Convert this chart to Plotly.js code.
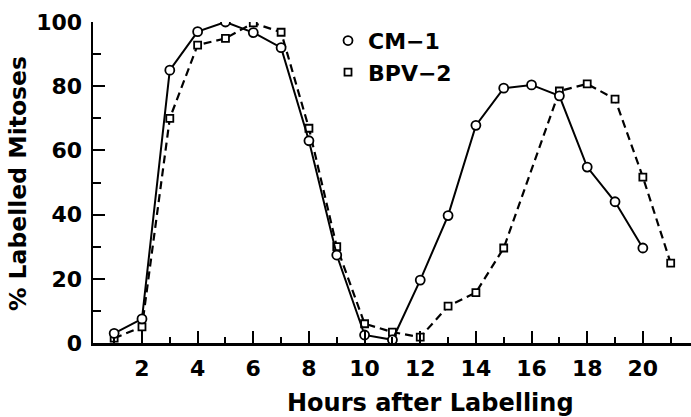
<!DOCTYPE html>
<html>
<head>
<meta charset="utf-8">
<script src="https://cdn.plot.ly/plotly-3.0.1.min.js"></script>
<style>html,body{margin:0;padding:0;background:#fff;}#chart{width:691px;height:417px;}</style>
</head>
<body>
<div id="chart"></div>
<script>
// Hours after labelling
const hoursCM = [1,2,3,4,5,6,7,8,9,10,11,12,13,14,15,16,17,18,19,20];
const labelledCM = [3,7.5,85,97,100,96.7,92,63,27.4,2.5,1,19.6,39.7,67.8,79.4,80.4,77,54.8,44,29.6];
const hoursBPV = [1,2,3,4,5,6,7,8,9,10,11,12,13,14,15,17,18,19,20,21];
const labelledBPV = [1.5,5,70,92.8,94.9,99.7,96.8,66.9,30,6,3.4,1.8,11.5,15.7,29.6,78.5,80.7,76,51.7,24.9];
const seriesNames = ["CM\u22121", "BPV\u22122"];
const xTitle = "Hours after Labelling";
const yTitle = "% Labelled Mitoses";

const FONT = "DejaVu Sans, Liberation Sans, Arial, sans-serif";

const traces = [
  {
    x: hoursBPV, y: labelledBPV, mode: "lines+markers", showlegend: false,
    line: {color: "#000", width: 2.2, dash: "8px,5px"},
    marker: {symbol: "square", size: 7, color: "#fff", line: {color: "#000", width: 1.8}}
  },
  {
    x: hoursCM, y: labelledCM, mode: "lines+markers", showlegend: false,
    line: {color: "#000", width: 2},
    marker: {symbol: "circle", size: 9, color: "#fff", line: {color: "#000", width: 1.8}}
  },
  {
    x: [null], y: [null], mode: "markers", name: seriesNames[0],
    marker: {symbol: "circle", size: 9, color: "#fff", line: {color: "#000", width: 1.8}}
  },
  {
    x: [null], y: [null], mode: "markers", name: seriesNames[1],
    marker: {symbol: "square", size: 7, color: "#fff", line: {color: "#000", width: 1.8}}
  }
];

const layout = {
  width: 691, height: 417,
  margin: {l: 93, r: 0, t: 22, b: 74, pad: 0},
  paper_bgcolor: "#fff", plot_bgcolor: "#fff",
  font: {family: FONT, size: 22, color: "#000", weight: "bold"},
  xaxis: {
    range: [0.24, 21.73], showgrid: false, zeroline: false,
    showline: true, linecolor: "#000", linewidth: 2.5,
    tick0: 0, dtick: 2, ticks: "inside", ticklen: 12, tickwidth: 2, tickcolor: "#000",
    ticklabelstandoff: 4,
    tickfont: {family: FONT, size: 22, color: "#000", weight: "bold"},
    minor: {tick0: 0, dtick: 1, ticks: "inside", ticklen: 6, tickwidth: 2, tickcolor: "#000", showgrid: false}
  },
  yaxis: {
    range: [0, 100], showgrid: false, zeroline: false,
    showline: true, linecolor: "#000", linewidth: 2.5,
    tick0: 0, dtick: 20, ticks: "inside", ticklen: 12, tickwidth: 2, tickcolor: "#000",
    ticklabelstandoff: 4,
    tickfont: {family: FONT, size: 22, color: "#000", weight: "bold"},
    minor: {tick0: 0, dtick: 10, ticks: "inside", ticklen: 8, tickwidth: 2, tickcolor: "#000", showgrid: false}
  },
  legend: {
    x: 0.393, y: 1.007, xanchor: "left", yanchor: "top",
    bgcolor: "rgba(0,0,0,0)", borderwidth: 0,
    font: {family: FONT, size: 22, color: "#000", weight: "bold"},
    itemwidth: 30
  },
  annotations: [
    {
      text: xTitle, xref: "paper", yref: "paper", x: 0.564, y: -0.187,
      xanchor: "center", yanchor: "middle", showarrow: false,
      font: {family: FONT, size: 24, color: "#000", weight: "bold"}
    },
    {
      text: yTitle, xref: "paper", yref: "paper", x: -0.1254, y: 0.495,
      xanchor: "center", yanchor: "middle", showarrow: false, textangle: -90,
      font: {family: FONT, size: 23.5, color: "#000", weight: "bold"}
    }
  ]
};

Plotly.newPlot("chart", traces, layout, {displayModeBar: false, staticPlot: true});
</script>
</body>
</html>
